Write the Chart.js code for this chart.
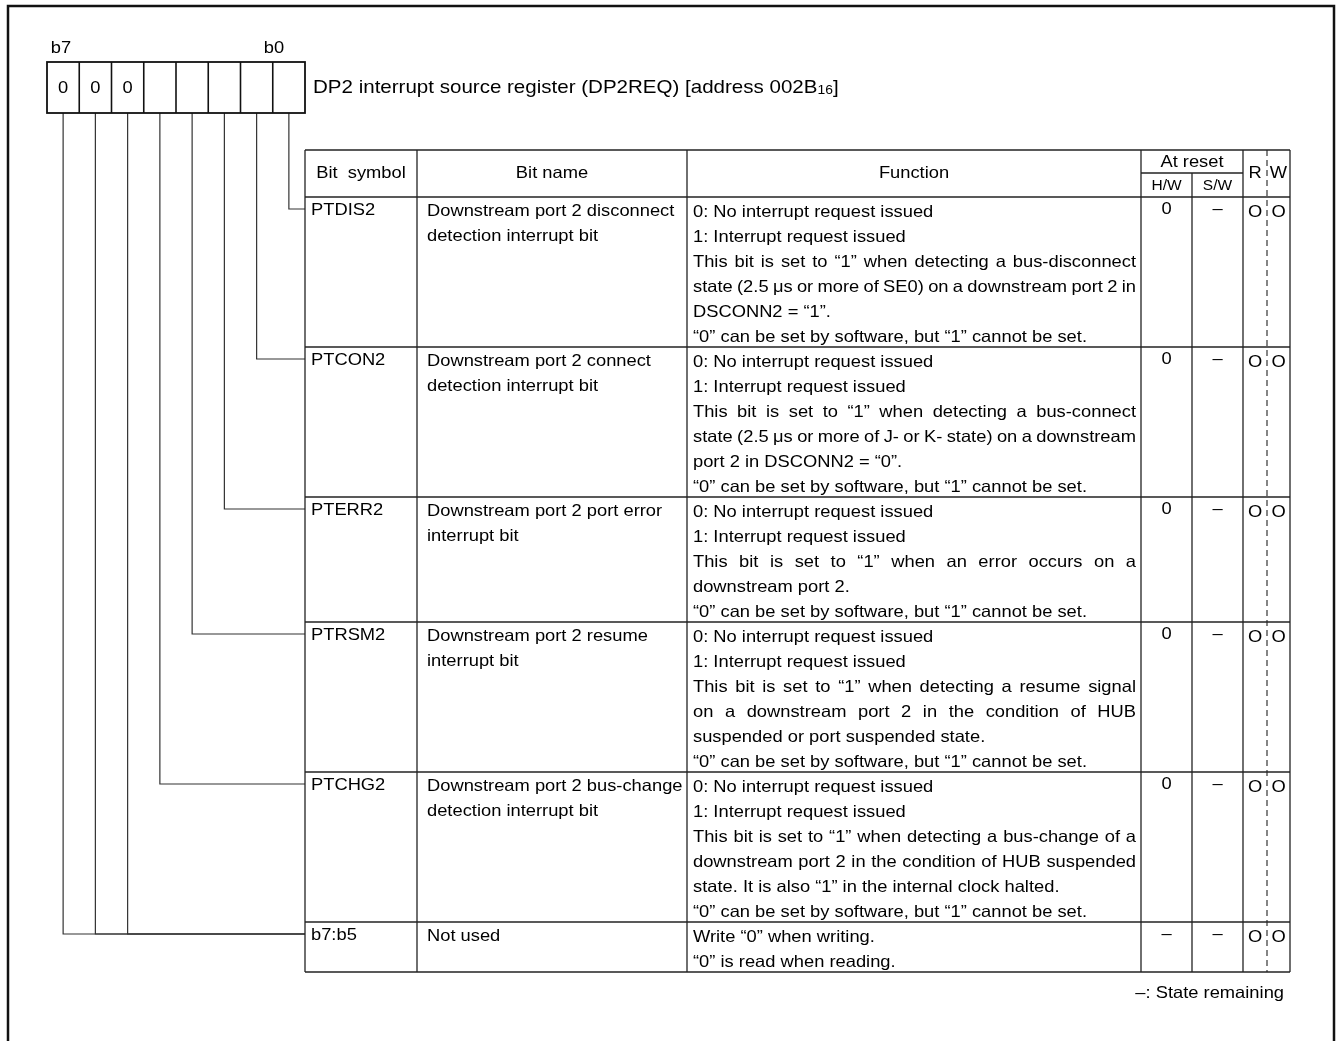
<!DOCTYPE html>
<html>
<head>
<meta charset="utf-8">
<script src="https://cdn.jsdelivr.net/npm/chart.js@4.4.1/dist/chart.umd.min.js"></script>
<style>
  body { margin: 0; background: #fff; }
  canvas { display: block; }
</style>
</head>
<body>
<canvas id="dp2req" width="1339" height="1041"></canvas>
<script>
// register contents, b7 .. b0
const bitValues = ['0', '0', '0', '', '', '', '', ''];
const bitLabels = ['b7', 'b0'];
const title = 'DP2 interrupt source register (DP2REQ) [address 002B';
const titleSub = '16';

const headers = ['Bit  symbol', 'Bit name', 'Function', 'At reset', 'H/W', 'S/W', 'R', 'W'];

const symbols = ['PTDIS2', 'PTCON2', 'PTERR2', 'PTRSM2', 'PTCHG2', 'b7:b5'];
// which bit (7 = b7 ... 0 = b0) each row points to
const linkBits = [[0], [1], [2], [3], [4], [7, 6, 5]];

const bitNames = [
  ['Downstream port 2 disconnect', 'detection interrupt bit'],
  ['Downstream port 2 connect', 'detection interrupt bit'],
  ['Downstream port 2 port error', 'interrupt bit'],
  ['Downstream port 2 resume', 'interrupt bit'],
  ['Downstream port 2 bus-change', 'detection interrupt bit'],
  ['Not used']
];

// each row: paragraphs, each paragraph: lines (all but last line justified)
const functions = [
  [['0: No interrupt request issued'], ['1: Interrupt request issued'],
   ['This bit is set to \u201c1\u201d when detecting a bus-disconnect',
    'state (2.5 \u03bcs or more of SE0) on a downstream port 2 in',
    'DSCONN2 = \u201c1\u201d.'],
   ['\u201c0\u201d can be set by software, but \u201c1\u201d cannot be set.']],
  [['0: No interrupt request issued'], ['1: Interrupt request issued'],
   ['This bit is set to \u201c1\u201d when detecting a bus-connect',
    'state (2.5 \u03bcs or more of J- or K- state) on a downstream',
    'port 2 in DSCONN2 = \u201c0\u201d.'],
   ['\u201c0\u201d can be set by software, but \u201c1\u201d cannot be set.']],
  [['0: No interrupt request issued'], ['1: Interrupt request issued'],
   ['This bit is set to \u201c1\u201d when an error occurs on a',
    'downstream port 2.'],
   ['\u201c0\u201d can be set by software, but \u201c1\u201d cannot be set.']],
  [['0: No interrupt request issued'], ['1: Interrupt request issued'],
   ['This bit is set to \u201c1\u201d when detecting a resume signal',
    'on a downstream port 2 in the condition of HUB',
    'suspended or port suspended state.'],
   ['\u201c0\u201d can be set by software, but \u201c1\u201d cannot be set.']],
  [['0: No interrupt request issued'], ['1: Interrupt request issued'],
   ['This bit is set to \u201c1\u201d when detecting a bus-change of a',
    'downstream port 2 in the condition of HUB suspended',
    'state. It is also \u201c1\u201d in the internal clock halted.'],
   ['\u201c0\u201d can be set by software, but \u201c1\u201d cannot be set.']],
  [['Write \u201c0\u201d when writing.'], ['\u201c0\u201d is read when reading.']]
];

const hwReset = ['0', '0', '0', '0', '0', '\u2013'];
const swReset = ['\u2013', '\u2013', '\u2013', '\u2013', '\u2013', '\u2013'];
const readAccess = ['O', 'O', 'O', 'O', 'O', 'O'];
const writeAccess = ['O', 'O', 'O', 'O', 'O', 'O'];
const footnote = '\u2013: State remaining';

// layout
const L = {
  boxLeft: 47, boxTop: 62, boxBottom: 113, cellW: 32.25,
  tableLeft: 305, tableTop: 150, headBottom: 197, lineH: 25,
  cols: [305, 417, 687, 1141, 1192, 1243, 1267, 1290],
  resetSplit: 173,
  font: '"Liberation Sans", Arial, sans-serif',
  size: 16.5, sx: 1.11
};

const rowLines = functions.map(f => f.reduce((n, p) => n + p.length, 0));
const rowTops = [];
rowLines.reduce((y, n) => { rowTops.push(y); return y + n * L.lineH; }, L.headBottom);
const tableBottom = L.headBottom + rowLines.reduce((a, b) => a + b, 0) * L.lineH;
const bitX = b => L.boxLeft + (7 - b + 0.5) * L.cellW;

// leader lines from the bit boxes to the table rows
const leaderSets = [];
linkBits.forEach((bits, r) => {
  const ly = rowTops[r] + 12;
  bits.forEach(b => {
    leaderSets.push({
      data: [{ x: bitX(b), y: L.boxBottom }, { x: bitX(b), y: ly }, { x: L.tableLeft, y: ly }],
      showLine: true, borderColor: '#333', borderWidth: 1.2, pointRadius: 0, fill: false, tension: 0
    });
  });
});

function txt(ctx, s, x, y, align, size, sx) {
  size = size || L.size; sx = sx || L.sx;
  ctx.font = size + 'px ' + L.font;
  const w = ctx.measureText(s).width * sx;
  let x0 = x;
  if (align === 'center') x0 = x - w / 2;
  else if (align === 'right') x0 = x - w;
  ctx.save();
  ctx.translate(x0, y);
  ctx.scale(sx, 1);
  ctx.textAlign = 'left';
  ctx.textBaseline = 'middle';
  ctx.fillText(s, 0, 0);
  ctx.restore();
  return w;
}

function justified(ctx, s, x0, x1, y) {
  ctx.font = L.size + 'px ' + L.font;
  const words = s.split(' ');
  const widths = words.map(w => ctx.measureText(w).width * L.sx);
  const total = widths.reduce((a, b) => a + b, 0);
  const gap = (x1 - x0 - total) / (words.length - 1);
  let x = x0;
  words.forEach((w, i) => { txt(ctx, w, x, y, 'left'); x += widths[i] + gap; });
}

const tablePlugin = {
  id: 'registerTable',
  afterDraw(chart) {
    const ctx = chart.ctx;
    const px = v => chart.scales.x.getPixelForValue(v);
    const py = v => chart.scales.y.getPixelForValue(v);
    const line = (x1, y1, x2, y2, w) => {
      ctx.lineWidth = w || 1.3;
      ctx.beginPath(); ctx.moveTo(px(x1), py(y1)); ctx.lineTo(px(x2), py(y2)); ctx.stroke();
    };
    ctx.save();
    ctx.strokeStyle = '#111';
    ctx.fillStyle = '#000';

    // outer frame
    ctx.lineWidth = 2.5;
    ctx.beginPath();
    ctx.moveTo(px(8), py(1041)); ctx.lineTo(px(8), py(6)); ctx.lineTo(px(1334), py(6)); ctx.lineTo(px(1334), py(1041));
    ctx.stroke();

    // bit boxes
    ctx.lineWidth = 1.8;
    ctx.strokeRect(px(L.boxLeft), py(L.boxTop), L.cellW * 8, L.boxBottom - L.boxTop);
    for (let i = 1; i < 8; i++) line(L.boxLeft + i * L.cellW, L.boxTop, L.boxLeft + i * L.cellW, L.boxBottom, 1.6);
    bitValues.forEach((v, i) => { if (v) txt(ctx, v, px(L.boxLeft + (i + 0.5) * L.cellW), py(88), 'center'); });
    txt(ctx, bitLabels[0], px(61), py(48), 'center');
    txt(ctx, bitLabels[1], px(274), py(48), 'center');

    // title with subscript
    let tx = px(313);
    tx += txt(ctx, title, tx, py(88), 'left', 18.5);
    tx += txt(ctx, titleSub, tx, py(91), 'left', 12.5);
    txt(ctx, ']', tx, py(88), 'left', 18.5);

    // table grid
    const c = L.cols;
    ctx.strokeStyle = '#222';
    line(c[0], L.tableTop, c[7], L.tableTop);
    line(c[0], L.headBottom, c[7], L.headBottom);
    line(c[3], L.resetSplit, c[5], L.resetSplit);
    rowTops.slice(1).forEach(y => line(c[0], y, c[7], y));
    line(c[0], tableBottom, c[7], tableBottom);
    [0, 1, 2, 3, 5, 7].forEach(i => line(c[i], L.tableTop, c[i], tableBottom));
    line(c[4], L.resetSplit, c[4], tableBottom);
    ctx.setLineDash([6, 4]);
    line(c[6], L.tableTop, c[6], tableBottom, 1.1);
    ctx.setLineDash([]);

    // headers
    const hy = (L.tableTop + L.headBottom) / 2;
    txt(ctx, headers[0], px((c[0] + c[1]) / 2), py(hy), 'center');
    txt(ctx, headers[1], px((c[1] + c[2]) / 2), py(hy), 'center');
    txt(ctx, headers[2], px((c[2] + c[3]) / 2), py(hy), 'center');
    txt(ctx, headers[3], px((c[3] + c[5]) / 2), py(162), 'center');
    txt(ctx, headers[4], px((c[3] + c[4]) / 2), py(186), 'center', 15.5, 1.0);
    txt(ctx, headers[5], px((c[4] + c[5]) / 2), py(186), 'center', 15.5, 1.0);
    txt(ctx, headers[6], px((c[5] + c[6]) / 2), py(hy), 'center');
    txt(ctx, headers[7], px((c[6] + c[7]) / 2), py(hy), 'center');

    // rows
    symbols.forEach((s, r) => {
      const y0 = rowTops[r] + 15;
      txt(ctx, s, px(c[0] + 6), py(y0 - 2), 'left');
      bitNames[r].forEach((n, i) => txt(ctx, n, px(c[1] + 10), py(y0 + i * L.lineH - 1), 'left'));
      let k = 0;
      functions[r].forEach(p => {
        p.forEach((ln, i) => {
          const yy = py(y0 + k * L.lineH);
          if (i < p.length - 1) justified(ctx, ln, px(c[2] + 6), px(c[3] - 5), yy);
          else txt(ctx, ln, px(c[2] + 6), yy, 'left');
          k++;
        });
      });
      txt(ctx, hwReset[r], px((c[3] + c[4]) / 2), py(y0 - 3), 'center');
      txt(ctx, swReset[r], px((c[4] + c[5]) / 2), py(y0 - 3), 'center');
      txt(ctx, readAccess[r], px((c[5] + c[6]) / 2), py(y0), 'center');
      txt(ctx, writeAccess[r], px((c[6] + c[7]) / 2), py(y0), 'center');
    });

    txt(ctx, footnote, px(1284), py(993), 'right');
    ctx.restore();
  }
};

new Chart(document.getElementById('dp2req').getContext('2d'), {
  type: 'scatter',
  data: { datasets: leaderSets },
  options: {
    responsive: false,
    animation: false,
    events: [],
    layout: { padding: 0 },
    scales: {
      x: { type: 'linear', min: 0, max: 1339, display: false },
      y: { type: 'linear', min: 0, max: 1041, reverse: true, display: false }
    },
    plugins: {
      legend: { display: false },
      tooltip: { enabled: false }
    }
  },
  plugins: [tablePlugin]
});
</script>
</body>
</html>
